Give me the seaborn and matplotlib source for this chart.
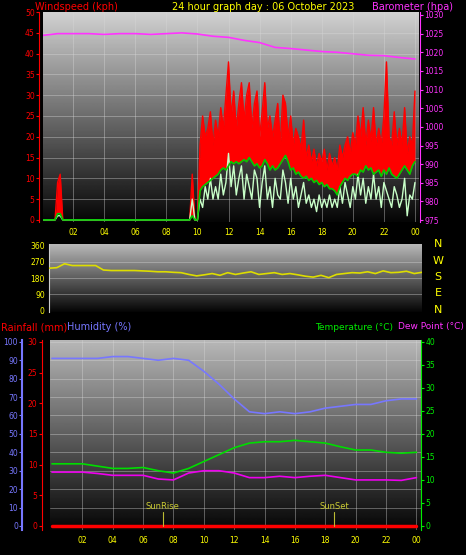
import numpy as np
import pandas as pd
import matplotlib
matplotlib.use("Agg")
import matplotlib.pyplot as plt
import seaborn as sns

sns.set_style("dark")
plt.rcParams["font.family"] = ["DejaVu Sans"]

# -----------------------------
# Data
# -----------------------------
# wind, 10 minute steps 00:00 .. 24:00
wind_hours = [i / 6 for i in range(145)]
gust_early = [0, 0, 0, 0, 0, 0, 9, 11, 0] + [0] * 49 + [11, 0, 0]
gust_day = [18, 25, 20, 22, 26, 18, 24, 20, 27, 22, 30, 38, 25, 31, 22, 28, 33, 24,
            30, 33, 22, 28, 31, 20, 26, 33, 22, 25, 20, 24, 28, 18, 30, 28, 20, 25,
            18, 22, 20, 17, 24, 15, 18, 14, 17, 13, 16, 14, 17, 12, 16, 13, 15, 12,
            18, 15, 18, 20, 16, 21, 18, 25, 20, 27, 18, 24, 19, 27, 18, 22, 18, 25,
            38, 20, 18, 26, 18, 22, 18, 27, 16, 20, 18, 31]
avg_early = [0, 0, 0, 0, 0, 0, 1.5, 1.5, 0] + [0] * 49 + [1, 0, 0]
avg_day = [7, 8, 8.5, 9, 9.5, 10, 10.5, 11, 12, 12.5, 12, 13, 14, 13.5, 14, 13.5, 14,
           14.5, 14, 15, 14, 13, 13.5, 12.5, 13, 14.5, 13.5, 12, 13, 12, 12.5, 13.5,
           14.5, 15.5, 14, 12, 12.5, 11, 11.5, 10.5, 10, 10.5, 9.5, 10, 9, 9.5, 8.5,
           9, 8, 8.5, 7.5, 7.5, 7, 6, 8, 9, 10, 9.5, 10.5, 11, 11, 10.5, 12, 11.5,
           13, 12, 12.5, 11, 11.5, 12, 10.5, 12, 11, 12.5, 11, 10.5, 10, 11, 12, 13,
           12, 11, 13, 14]
speed_early = [0, 0, 0, 0, 0, 0, 1, 1, 0] + [0] * 49 + [5, 0, 0]
speed_day = [5, 3, 8, 5, 10, 5, 8, 5, 11, 6, 9, 16, 8, 13, 6, 10, 13, 5, 11, 8, 5, 12,
             10, 3, 9, 13, 5, 8, 3, 10, 6, 5, 12, 9, 4, 10, 5, 8, 3, 6, 9, 4, 6, 3,
             5, 2, 6, 3, 5, 3, 6, 3, 5, 3, 8, 4, 9, 6, 3, 8, 5, 11, 6, 10, 4, 8, 5,
             11, 5, 8, 3, 9, 7, 5, 3, 8, 6, 3, 5, 10, 1, 6, 5, 9]
gust = gust_early + gust_day
avg_wind = avg_early + avg_day
speed = speed_early + speed_day

baro_hours = list(range(25))
baro = [1024.5, 1025, 1025, 1025, 1024.8, 1025, 1025, 1024.8, 1025, 1025.2, 1024.9,
        1024.3, 1024, 1023.2, 1022.6, 1021.3, 1021, 1020.6, 1020.2, 1020, 1019.6,
        1019.2, 1019.1, 1018.6, 1018.2]

# wind direction, half hour steps
dir_hours = [i / 2 for i in range(49)]
wind_dir = [235, 238, 260, 250, 250, 250, 250, 225, 222, 222, 222, 222, 220, 218, 215,
            215, 212, 210, 200, 192, 198, 205, 195, 210, 200, 208, 215, 200, 205, 210,
            200, 205, 198, 190, 185, 195, 182, 200, 205, 210, 208, 215, 205, 220, 210,
            212, 218, 205, 212]

hours = list(range(25))
humidity = [91, 91, 91, 91, 92, 92, 91, 90, 91, 90, 84, 77, 69, 62, 61, 62, 61, 62,
            64, 65, 66, 66, 68, 69, 69]
temperature = [13.5, 13.5, 13.5, 13, 12.5, 12.5, 12.7, 12, 11.5, 12.5, 14, 15.5, 17,
               18, 18.3, 18.3, 18.6, 18.3, 18, 17.2, 16.5, 16.5, 16, 15.8, 16]
dew_point = [11.7, 11.7, 11.7, 11.4, 11, 11, 11, 10.2, 10, 11.5, 12, 12, 11.5, 10.5,
             10.5, 10.8, 10.5, 10.8, 11, 10.5, 10, 10, 10, 9.9, 10.5]
rainfall = [0] * 25

hour_ticks = [2, 4, 6, 8, 10, 12, 14, 16, 18, 20, 22, 24]
hour_labels = ["02", "04", "06", "08", "10", "12", "14", "16", "18", "20", "22", "00"]

W, H = 466, 555
FS = 5.5
RED, MAG, YEL, GRN, BLUE = "#ff0000", "#ff33ff", "#ffff00", "#00ee00", "#7777ff"
GRID = dict(color="#d8d8d8", lw=0.6, alpha=0.45, zorder=1)


def box(x0, y0, x1, y1):
    return [x0 / W, 1 - y1 / H, (x1 - x0) / W, (y1 - y0) / H]


def background(ax, top=0.8):
    grad = np.linspace(top, 0.02, 256).reshape(-1, 1)
    ax.imshow(grad, cmap="gray", vmin=0, vmax=1, aspect="auto",
              extent=[*ax.get_xlim(), *ax.get_ylim()], zorder=0)
    ax.grid(False)


def xaxis(ax):
    ax.set_xticks(hour_ticks)
    ax.set_xticklabels(hour_labels)
    ax.tick_params(axis="x", colors=YEL, labelsize=FS, length=2, pad=2)
    for x in hour_ticks:
        ax.axvline(x, **GRID)


fig = plt.figure(figsize=(W / 100, H / 100), dpi=100, facecolor="black")

# -----------------------------
# Wind + barometer
# -----------------------------
ax = fig.add_axes(box(43, 12, 419, 222))
ax.set_xlim(0.06, 24.26)
ax.set_ylim(-0.5, 50)
background(ax, 0.82)
xaxis(ax)
for y in range(5, 50, 5):
    ax.axhline(y, **GRID)
ax.fill_between(wind_hours, avg_wind, gust, color=RED, lw=0, zorder=2)
sns.lineplot(x=wind_hours, y=gust, ax=ax, color=RED, lw=1, zorder=3)
sns.lineplot(x=wind_hours, y=speed, ax=ax, color="#c8ffc8", lw=1, zorder=4)
sns.lineplot(x=wind_hours, y=avg_wind, ax=ax, color="#00cc00", lw=1.2, zorder=5)
ax.set_yticks(range(0, 51, 5))
ax.tick_params(axis="y", colors=RED, labelsize=FS, length=2, pad=1)
for s in ax.spines.values():
    s.set_visible(False)
ax.spines["left"].set_visible(True)
ax.spines["left"].set_color(RED)
ax.spines["left"].set_position(("outward", 3))

axb = ax.twinx()
axb.set_ylim(974.5, 1030.8)
sns.lineplot(x=baro_hours, y=baro, ax=axb, color=MAG, lw=1.2, zorder=6)
axb.set_yticks(range(975, 1031, 5))
axb.tick_params(axis="y", colors=MAG, labelsize=FS, length=2, pad=1)
for s in axb.spines.values():
    s.set_visible(False)
axb.spines["right"].set_visible(True)
axb.spines["right"].set_color(MAG)
axb.spines["right"].set_position(("outward", 1))
axb.grid(False)
axb.set_ylabel("")

fig.text(35 / W, 1 - 7 / H, "Windspeed (kph)", color=RED, fontsize=7, va="center")
fig.text(172 / W, 1 - 7 / H, "24 hour graph day : 06 October 2023", color=YEL, fontsize=7, va="center")
fig.text(372 / W, 1 - 7 / H, "Barometer (hpa)", color=MAG, fontsize=7, va="center")

# -----------------------------
# Wind direction
# -----------------------------
ad = fig.add_axes(box(49, 244, 422, 312))
ad.set_xlim(0, 24)
ad.set_ylim(-11, 371)
background(ad, 0.72)
ad.set_xticks([])
for y in [90, 180, 270]:
    ad.axhline(y, **GRID)
sns.lineplot(x=dir_hours, y=wind_dir, ax=ad, color="#dddd00", lw=1.2, zorder=3)
ad.set_yticks([0, 90, 180, 270, 360])
ad.tick_params(axis="y", colors=YEL, labelsize=FS, length=2, pad=1)
for s in ad.spines.values():
    s.set_visible(False)
ad.spines["left"].set_visible(True)
ad.spines["left"].set_color("#cccccc")
for i, c in enumerate("NWSEN"):
    fig.text(438 / W, 1 - (244 + i * 16.5) / H, c, color=YEL, fontsize=8, ha="center", va="center")

# -----------------------------
# Humidity / temperature
# -----------------------------
ah = fig.add_axes(box(50, 340, 421, 530))
ah.set_xlim(-0.13, 24.3)
ah.set_ylim(-2.2, 101)
background(ah, 0.72)
xaxis(ah)
for y in range(10, 101, 10):
    ah.axhline(y, **GRID)
sns.lineplot(x=hours, y=humidity, ax=ah, color=BLUE, lw=1.2, zorder=4)
ah.set_yticks(range(0, 101, 10))
ah.tick_params(axis="y", colors=BLUE, labelsize=FS, length=2, pad=1)
for s in ah.spines.values():
    s.set_visible(False)
ah.spines["left"].set_visible(True)
ah.spines["left"].set_color(BLUE)
ah.spines["left"].set_linewidth(1.5)
ah.spines["left"].set_position(("outward", 20))

ar = ah.twinx()
ar.set_ylim(-2.2 * 0.3, 30.3)
ar.yaxis.set_ticks_position("left")
ar.spines["left"].set_position(("outward", 6))
ar.set_yticks(range(0, 31, 5))
ar.tick_params(axis="y", colors=RED, labelsize=FS, length=2, pad=1)
sns.lineplot(x=hours, y=rainfall, ax=ar, color=RED, lw=2.5, zorder=5)
for s in ar.spines.values():
    s.set_visible(False)
ar.spines["left"].set_visible(True)
ar.spines["left"].set_color(RED)
ar.grid(False)
ar.set_ylabel("")

at = ah.twinx()
at.set_ylim(-2.2 * 0.4, 40.4)
sns.lineplot(x=hours, y=temperature, ax=at, color="#00dd00", lw=1.2, zorder=6)
sns.lineplot(x=hours, y=dew_point, ax=at, color="#ee00ee", lw=1.2, zorder=6)
at.set_yticks(range(0, 41, 5))
at.tick_params(axis="y", colors=GRN, labelsize=FS, length=2, pad=1)
for s in at.spines.values():
    s.set_visible(False)
at.spines["right"].set_visible(True)
at.spines["right"].set_color(GRN)
at.grid(False)
at.set_ylabel("")
for t, lab in [(7.3, "SunRise"), (18.6, "SunSet")]:
    at.plot([t, t], [0, 3], color="#bbbb33", lw=0.8, zorder=5)
    at.text(t, 3.3, lab, color="#cccc33", fontsize=6, ha="center", va="bottom", zorder=5)

fig.text(1 / W, 1 - 327 / H, "Rainfall (mm)", color=RED, fontsize=7, va="center")
fig.text(67 / W, 1 - 327 / H, "Humidity (%)", color=BLUE, fontsize=7, va="center")
fig.text(393 / W, 1 - 327 / H, "Temperature (\u00b0C)", color=GRN, fontsize=6.5, va="center", ha="right")
fig.text(464 / W, 1 - 327 / H, "Dew Point (\u00b0C)", color=MAG, fontsize=6.5, va="center", ha="right")

fig.savefig("out.png", dpi=100, facecolor="black")
